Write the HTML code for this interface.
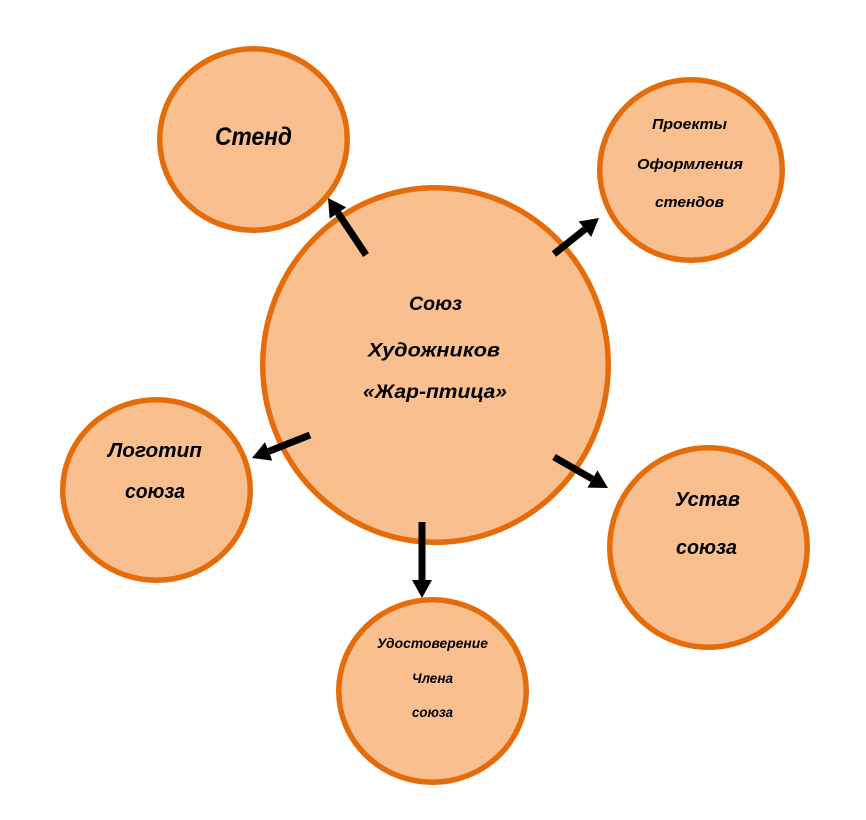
<!DOCTYPE html>
<html>
<head>
<meta charset="utf-8">
<style>
html,body{margin:0;padding:0;background:#fff;}
svg{display:block;}
text{font-family:"Liberation Sans","DejaVu Sans",sans-serif;font-style:italic;font-weight:bold;fill:#000;}
</style>
</head>
<body>
<svg width="866" height="820" viewBox="0 0 866 820" xmlns="http://www.w3.org/2000/svg">
<defs>
<marker id="ah" markerUnits="userSpaceOnUse" markerWidth="18" markerHeight="20" refX="0" refY="10" orient="auto">
<path d="M0,0 L18,10 L0,20 z" fill="#000"/>
</marker>
</defs>
<g fill="#F9BF8F" stroke="#E46C0A" stroke-width="5.5">
<ellipse cx="435.5" cy="365" rx="172.75" ry="177.25"/>
<ellipse cx="253.5" cy="139.5" rx="93.75" ry="90.75"/>
<ellipse cx="691" cy="170" rx="91.25" ry="90.25"/>
<ellipse cx="156.5" cy="490" rx="93.75" ry="90.25"/>
<ellipse cx="708.5" cy="547.5" rx="98.75" ry="99.75"/>
<ellipse cx="432.5" cy="691" rx="93.75" ry="91.25"/>
</g>
<g stroke="#000" stroke-width="7" fill="none">
<line x1="366" y1="255" x2="338" y2="213" marker-end="url(#ah)"/>
<line x1="554" y1="254" x2="584.9" y2="229.3" marker-end="url(#ah)"/>
<line x1="310" y1="435" x2="268.7" y2="451.4" marker-end="url(#ah)"/>
<line x1="554" y1="457" x2="592.4" y2="479" marker-end="url(#ah)"/>
<line x1="422" y1="522" x2="422" y2="580" marker-end="url(#ah)"/>
</g>
<!-- center -->
<text x="409" y="310" font-size="19.5" textLength="53" lengthAdjust="spacingAndGlyphs">Союз</text>
<text x="368" y="356.5" font-size="19.5" textLength="132" lengthAdjust="spacingAndGlyphs">Художников</text>
<text x="363" y="398" font-size="19.5" textLength="144" lengthAdjust="spacingAndGlyphs">«Жар-птица»</text>
<!-- Стенд -->
<text x="215" y="145" font-size="25" textLength="77" lengthAdjust="spacingAndGlyphs">Стенд</text>
<!-- Проекты -->
<text x="652" y="129" font-size="15" textLength="75" lengthAdjust="spacingAndGlyphs">Проекты</text>
<text x="637" y="169" font-size="15" textLength="106" lengthAdjust="spacingAndGlyphs">Оформления</text>
<text x="655" y="207" font-size="15" textLength="69" lengthAdjust="spacingAndGlyphs">стендов</text>
<!-- Логотип -->
<text x="108" y="457" font-size="20" textLength="94" lengthAdjust="spacingAndGlyphs">Логотип</text>
<text x="125" y="498" font-size="20" textLength="60" lengthAdjust="spacingAndGlyphs">союза</text>
<!-- Устав -->
<text x="675" y="506" font-size="20" textLength="65" lengthAdjust="spacingAndGlyphs">Устав</text>
<text x="676" y="554" font-size="20" textLength="61" lengthAdjust="spacingAndGlyphs">союза</text>
<!-- Удостоверение -->
<text x="377" y="648" font-size="14" textLength="111" lengthAdjust="spacingAndGlyphs">Удостоверение</text>
<text x="412" y="683" font-size="14" textLength="41" lengthAdjust="spacingAndGlyphs">Члена</text>
<text x="412" y="717" font-size="14" textLength="41" lengthAdjust="spacingAndGlyphs">союза</text>
</svg>
</body>
</html>
